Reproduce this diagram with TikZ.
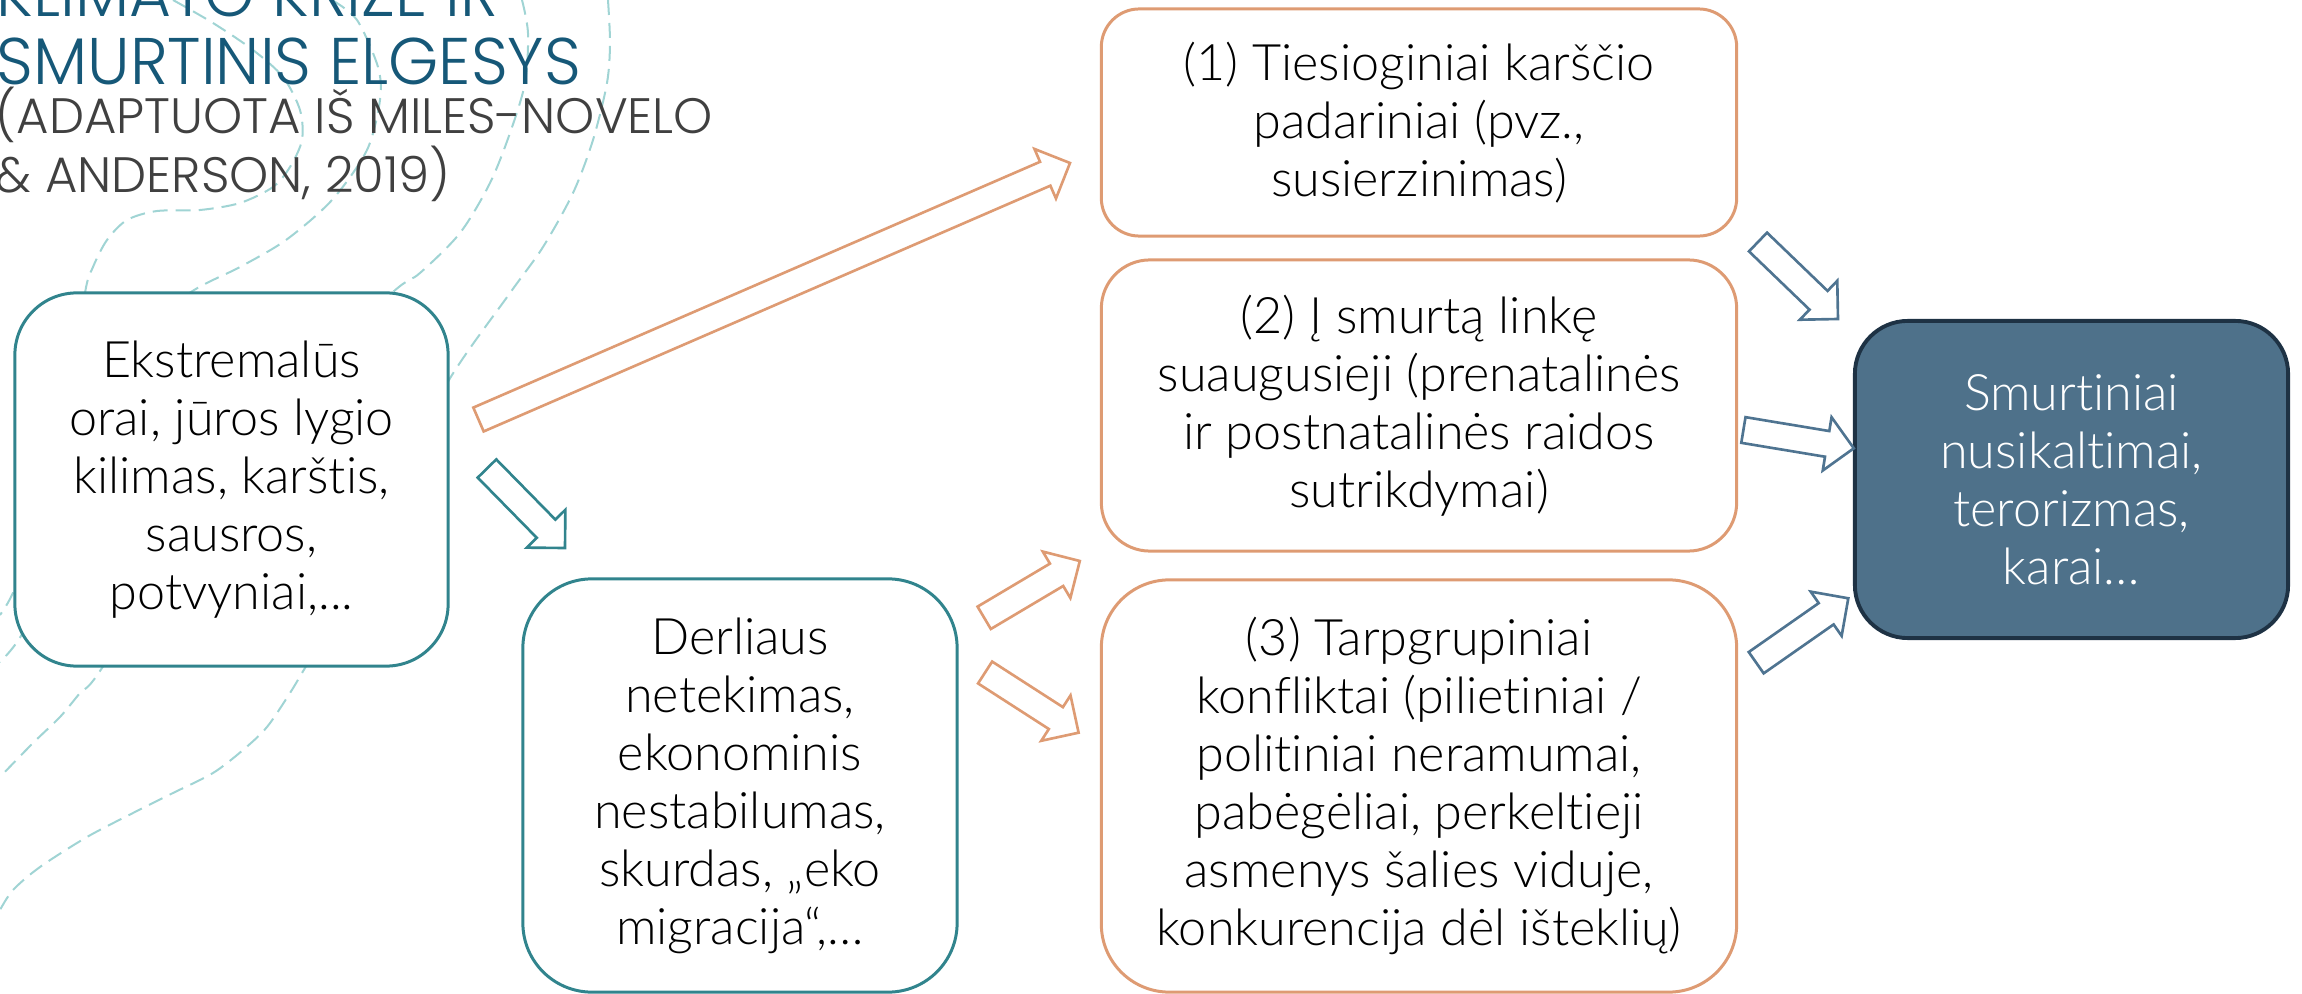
\documentclass[tikz,border=0pt]{standalone}
\usepackage{fontspec}
\setmainfont{Lato Light}[Ligatures={NoCommon,NoContextual}]
\newfontfamily\titlefont{Poppins Light}[FakeStretch=0.975]
\newfontfamily\sourcefont{Poppins Light}
\usetikzlibrary{calc}

\definecolor{tealline}{RGB}{49,132,141}
\definecolor{peach}{RGB}{222,155,115}
\definecolor{slateline}{RGB}{79,116,145}
\definecolor{slatefill}{RGB}{78,113,138}
\definecolor{navyline}{RGB}{30,50,68}
\definecolor{titleblue}{RGB}{22,88,120}
\definecolor{subgray}{RGB}{64,64,64}
\definecolor{decoline}{RGB}{160,212,212}

\newcommand{\boxfont}{\fontsize{14.3pt}{16.5pt}\selectfont}
\newcommand{\blockarrow}[3]{%
  \coordinate (ba-h) at ($(#3)!0.27cm!(#2)$);
  \draw[#1, line width=0.75pt, line join=miter]
    ($(#2)!0.13cm!90:(#3)$) -- ($(ba-h)!0.13cm!90:(#3)$)
    -- ($(ba-h)!0.27cm!90:(#3)$) -- (#3)
    -- ($(ba-h)!0.27cm!-90:(#3)$) -- ($(ba-h)!0.13cm!-90:(#3)$)
    -- ($(#2)!0.13cm!-90:(#3)$) -- cycle;
}

\begin{document}
\begin{tikzpicture}[x=0.01cm, y=-0.01cm,
    box/.style={draw, fill=white, line width=0.85pt, align=center, inner sep=0pt, font=\boxfont},
    cause/.style={box, draw=tealline, minimum width=4.33cm},
    effect/.style={box, draw=peach, minimum width=6.35cm},
    outcome/.style={box, draw=navyline, fill=slatefill, text=white, line width=1.1pt, minimum width=4.33cm},
    heading/.style={anchor=base west, align=left, inner sep=0pt},
    deco/.style={decoline, line width=0.57pt, dash pattern=on 0.15cm off 0.08cm}]
  \useasboundingbox (0,0) rectangle (2302,994);
  \clip (0,0) rectangle (2302,994);

  \draw[deco] plot[smooth] coordinates {(173,0) (213,23) (253,50) (283,77) (300,110) (302,140) (290,167) (273,187) (240,203) (200,210) (157,211) (127,220) (107,240) (93,267) (85,293) (70,400) (40,510) (15,588) (0,615)};
  \draw[deco] plot[smooth] coordinates {(332,0) (357,20) (378,67) (380,100) (367,150) (332,200) (286,240) (240,267) (191,292) (130,340) (80,430) (50,540) (25,628) (0,662)};
  \draw[deco] plot[smooth] coordinates {(522,0) (528,33) (525,83) (510,133) (490,183) (460,233) (420,273) (393,292) (300,380) (200,510) (102,668) (80,693) (60,717) (33,743) (0,777)};
  \draw[deco] plot[smooth] coordinates {(608,0) (610,43) (607,83) (593,140) (573,193) (543,247) (510,293) (449,380) (400,480) (340,610) (305,668) (290,693) (267,727) (243,750) (213,773) (173,793) (133,813) (87,837) (40,867) (13,890) (0,910)};

  \node (title) [heading, text=titleblue, text depth=0pt,
    font=\titlefont\fontsize{18.75pt}{19.35pt}\selectfont] at (-4,85)
    {KLIMATO KRIZĖ IR\\SMURTINIS ELGESYS};
  \node (source) [heading, text=subgray,
    font=\sourcefont\fontsize{14.15pt}{15.08pt}\selectfont] at (-5,193)
    {(ADAPTUOTA IŠ MILES-NOVELO\\\& ANDERSON, 2019)};

  \node (extreme) [cause, minimum height=3.73cm, rounded corners=0.62cm] at (231.5,479.5)
    {Ekstremalūs\\orai, jūros lygio\\kilimas, karštis,\\sausros,\\potvyniai,...};
  \node (harvest) [cause, minimum width=4.34cm, minimum height=4.13cm, rounded corners=0.69cm] at (740,785.5)
    {Derliaus\\netekimas,\\ekonominis\\nestabilumas,\\skurdas, „eko\\migracija“,…};
  \node (heat) [effect, minimum height=2.27cm, rounded corners=0.38cm] at (1419,122.5)
    {(1) Tiesioginiai karščio\\padariniai (pvz.,\\susierzinimas)};
  \node (prone) [effect, minimum height=2.91cm, rounded corners=0.485cm] at (1419,405.5)
    {(2) Į smurtą linkę\\suaugusieji (prenatalinės\\ir postnatalinės raidos\\sutrikdymai)};
  \node (conflict) [effect, minimum height=4.12cm, rounded corners=0.68cm] at (1419,786)
    {(3) Tarpgrupiniai\\konfliktai (pilietiniai /\\politiniai neramumai,\\pabėgėliai, perkeltieji\\asmenys šalies viduje,\\konkurencija dėl išteklių)};
  \node (violence) [outcome, minimum height=3.17cm, rounded corners=0.53cm] at (2071.5,479.5)
    {Smurtiniai\\nusikaltimai,\\terorizmas,\\karai…};

  \coordinate (extreme-out) at (478.5,419.5);
  \coordinate (heat-in) at (1070,163);
  \coordinate (extreme-down) at (487,468.5);
  \coordinate (harvest-in) at (565,548);
  \coordinate (harvest-up) at (984.2,617.8);
  \coordinate (prone-in) at (1079.8,561);
  \coordinate (harvest-out) at (985.1,672.5);
  \coordinate (conflict-in) at (1078.6,732.7);
  \coordinate (heat-out) at (1758,242);
  \coordinate (violence-top) at (1838,319);
  \coordinate (prone-out) at (1743.4,430);
  \coordinate (violence-mid) at (1853.8,448.3);
  \coordinate (conflict-out) at (1756.2,662.7);
  \coordinate (violence-low) at (1848.3,598.3);

  \blockarrow{peach}{extreme-out}{heat-in}
  \blockarrow{tealline}{extreme-down}{harvest-in}
  \blockarrow{peach}{harvest-up}{prone-in}
  \blockarrow{peach}{harvest-out}{conflict-in}
  \blockarrow{slateline}{heat-out}{violence-top}
  \blockarrow{slateline}{prone-out}{violence-mid}
  \blockarrow{slateline}{conflict-out}{violence-low}
\end{tikzpicture}
\end{document}
